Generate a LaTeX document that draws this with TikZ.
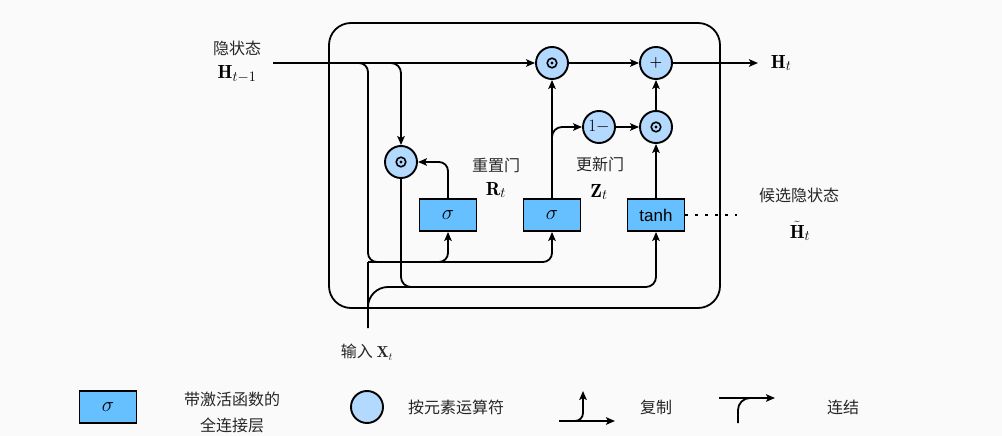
\documentclass[tikz,border=0pt]{standalone}
\usepackage{amsmath}
\usepackage{fontspec}
\setsansfont{Liberation Sans}
\newfontfamily\zh{Noto Sans CJK SC}
\usepackage{xcolor}
\usepackage{tikz}
\usetikzlibrary{arrows.meta}
\definecolor{fcblue}{HTML}{66BFFF}
\definecolor{opblue}{HTML}{B3D9FF}
\definecolor{bgray}{HTML}{FAFAFA}
\tikzset{
  fc/.style={draw,line width=1.9pt,fill=fcblue,minimum width=57pt,minimum height=32pt,inner sep=0pt,font=\fontsize{21}{21}\selectfont},
  op/.style={draw,circle,line width=1.9pt,fill=opblue,minimum size=32pt,inner sep=0pt,font=\fontsize{18}{18}\selectfont},
  lbl/.style={font=\zh\fontsize{16}{18}\selectfont,text=black!85,inner sep=0pt},
  sym/.style={font=\fontsize{19}{19}\selectfont,inner sep=0pt},
}

\begin{document}
\begin{tikzpicture}[x=1pt,y=-1pt,line width=1.8pt,>={Stealth[length=9pt,width=7.5pt,inset=2pt]}]
\fill[bgray] (0,0) rectangle (1002,436);
\useasboundingbox (0,0) rectangle (1002,436);
% ---- GRU CELL ----
\draw[rounded corners=22] (329,23) rectangle (720,308);
\foreach \n/\x/\y/\s in {odH/552/63/{},plus/656/63/{\fontsize{14}{14}\selectfont$\boldsymbol{+}$},om/599/127/$1{-}$,odC/656/127/{},odR/401/162/{}}
  \node[op] (\n) at (\x,\y) {\s};
% odot marks
\foreach \n in {odH,odC,odR}{
  \draw[line width=1.6pt] (\n) circle (4.8pt);
  \fill (\n) circle (1.7pt);}
\node[fc] (sigR) at (448,215) {$\sigma$};
\node[fc] (sigZ) at (552,215) {$\sigma$};
\node[fc,font=\sffamily\fontsize{17}{17}\selectfont] (tanhN) at (656,215) {tanh};
\coordinate (hin) at (273,63);
\coordinate (hout) at (758,63);
\coordinate (xin) at (368,328);
\coordinate (cat) at (368,262);
\coordinate (mix) at (656,287);
\coordinate (xmix) at (440,287);
\coordinate (dotend) at (737,215);
\draw[->] (hin) -- (odH);
\draw[->] (odH) -- (plus);
\draw[->] (plus) -- (hout);
\draw[->,rounded corners=10] (hin) -| (odR);
\draw[->,rounded corners=9] (hin) -| (cat) -| (sigR);
\draw[->,rounded corners=9] (cat) -| (sigZ);
\draw (xin) -- (cat);
\draw[rounded corners=20] (xin) |- (xmix);
\draw[->,rounded corners=10] (odR) |- (mix) -- (tanhN);
\draw[->,rounded corners=9] (sigR) |- (odR);
\draw[->] (sigZ) -- (odH);
\draw[->,rounded corners=10] (sigZ) |- (om);
\draw[->] (om) -- (odC);
\draw[->] (odC) -- (plus);
\draw[->] (tanhN) -- (odC);
\draw[dash pattern=on 3pt off 7pt] (tanhN) -- (dotend);
% labels
\node[lbl] (hlbl) at (237,48) {隐状态};
\node[sym] (hprev) at (237,74) {$\mathbf{H}_{t-1}$};
\node[sym,anchor=west] (hnew) at (770,63) {$\mathbf{H}_t$};
\node[lbl] (rlbl) at (496,165) {重置门};
\node[sym] (rsym) at (496,190) {$\mathbf{R}_t$};
\node[lbl] (zlbl) at (600,164) {更新门};
\node[sym] (zsym) at (599,192) {$\mathbf{Z}_t$};
\node[lbl] (clbl) at (799,195) {候选隐状态};
\node[sym] (csym) at (800,231) {$\tilde{\mathbf{H}}_t$};
\node[lbl] (xlbl) at (367,352) {输入~$\mathbf{X}_t$};
% ---- LEGEND ----
\node[fc] (legfc) at (108,407) {$\sigma$};
\node[lbl,align=center,font=\zh\fontsize{16}{26}\selectfont] (legfct) at (232,412) {带激活函数的\\全连接层};
\node[op] (legop) at (367,407) {};
\node[lbl] (legopt) at (456,407) {按元素运算符};
\coordinate (cpa) at (559,421); \coordinate (cpb) at (615,421); \coordinate (cpc) at (583,391);
\draw[->] (cpa) -- (cpb);
\draw[->,rounded corners=8] (cpa) -| (cpc);
\node[lbl] (legcp) at (656,407) {复制};
\coordinate (cca) at (738,423); \coordinate (ccb) at (719,398); \coordinate (ccc) at (775,398); \coordinate (ccd) at (752,398);
\draw[->] (ccb) -- (ccc);
\draw[rounded corners=12] (cca) |- (ccd);
\node[lbl] (legcc) at (843,407) {连结};
\end{tikzpicture}
\end{document}
